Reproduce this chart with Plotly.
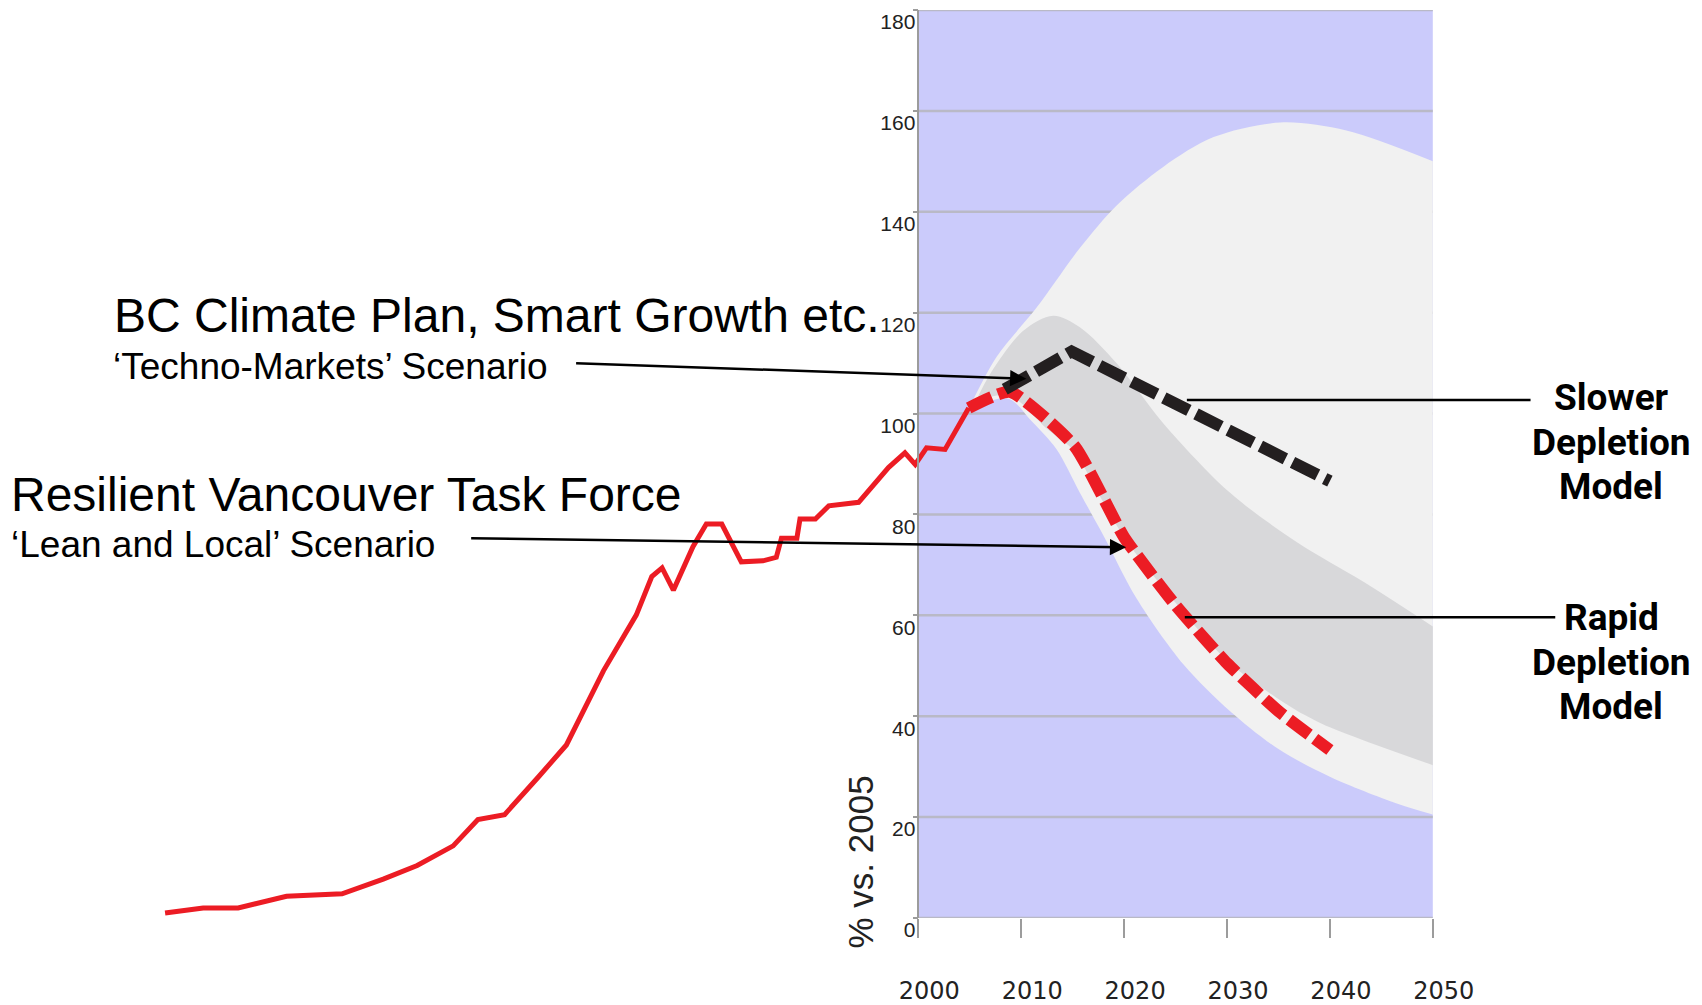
import plotly.graph_objects as go

# ---------------- data ----------------
hist_years = [1926.8, 1930.5, 1933.9, 1938.6, 1944.0, 1948.0, 1951.3, 1954.8, 1957.2, 1959.8,
              1963.1, 1965.8, 1969.4, 1972.6, 1974.1, 1975.1, 1976.2, 1978.1, 1979.4, 1980.9,
              1982.8, 1984.9, 1986.2, 1986.7, 1988.2, 1988.5, 1990.0, 1991.3, 1994.2, 1997.1,
              1998.7, 1999.7, 2000.8, 2002.6, 2004.9]
hist_values = [1.0, 2.0, 2.0, 4.3, 4.8, 7.7, 10.4, 14.3, 19.5, 20.5,
               28.0, 34.3, 49.0, 60.1, 67.7, 69.4, 65.0, 73.6, 78.1, 78.1,
               70.6, 70.8, 71.5, 75.3, 75.3, 79.1, 79.1, 81.7, 82.4, 89.3,
               92.2, 89.9, 93.2, 92.9, 101.1]

lean_years = [2004.9, 2008.9, 2015.2, 2020.0, 2025.0, 2030.0, 2035.0, 2040.0]
lean_values = [101.1, 104.3, 93.5, 75.5, 62.0, 50.5, 41.0, 33.3]

techno_years = [2008.4, 2014.9, 2040.0]
techno_values = [104.8, 112.3, 86.6]

outer_up_years = [2004.8, 2007.6, 2011.5, 2015.7, 2019.3, 2023.8, 2028.7, 2035.2, 2041.6, 2050.0]
outer_up_values = [100.5, 111.2, 121.0, 132.8, 141.3, 148.9, 154.8, 157.7, 156.1, 150.0]
outer_low_years = [2004.8, 2008.7, 2011.0, 2013.4, 2015.7, 2018.0, 2021.2, 2025.8, 2030.3, 2035.0,
                   2040.0, 2046.5, 2050.0]
outer_low_values = [100.5, 103.0, 98.5, 93.0, 84.3, 75.8, 63.4, 50.2, 41.0, 33.5,
                    28.0, 22.7, 20.5]

inner_up_years = [2005.6, 2007.0, 2010.2, 2013.1, 2015.7, 2019.3, 2023.8, 2030.3, 2036.8, 2043.3, 2050.0]
inner_up_values = [102.5, 107.9, 116.4, 119.4, 117.1, 109.9, 98.1, 84.3, 74.5, 66.6, 57.8]
inner_low_years = [2005.6, 2008.9, 2012.5, 2015.2, 2017.0, 2020.0, 2025.0, 2030.0, 2033.5, 2036.8,
                   2040.0, 2043.3, 2050.0]
inner_low_values = [102.5, 103.5, 97.0, 92.5, 86.0, 75.5, 62.5, 51.0, 45.5, 41.1,
                    37.8, 35.2, 30.3]

x_ticks = [2000, 2010, 2020, 2030, 2040, 2050]
y_ticks = [0, 20, 40, 60, 80, 100, 120, 140, 160, 180]

# annotation anchor points (data coords)
techno_arrow_tail = (1966.6, 110.0)
techno_arrow_tip = (2010.5, 106.9)
lean_arrow_tail = (1956.4, 75.3)
lean_arrow_tip = (2020.2, 73.5)
slower_line = (2026.1, 2059.5, 102.7)
rapid_line = (2025.9, 2061.9, 59.6)

# ---------------- layout geometry ----------------
W, H = 1702, 1005
M_T, M_B = 10, 79
PLOT_H = H - M_T - M_B
X0_PX, PX_PER_YEAR = 918.3, 10.29
x_range = [2000 - X0_PX / PX_PER_YEAR, 2000 + (W - X0_PX) / PX_PER_YEAR]


def px_x(px):
    return px / W


def px_y(py):
    return (H - M_B - py) / PLOT_H


RED = "#ec1c24"
BLACK = "#231f20"
BLUE_BG = "#cbcbfb"
LIGHT = "#f1f1f1"
DARK = "#d8d8da"
GRID = "#b9b9c6"
AXIS = "#9c9c9c"

fig = go.Figure()

# bands
fig.add_trace(go.Scatter(x=outer_low_years, y=outer_low_values, mode="lines",
                         line=dict(width=0, shape="spline", smoothing=0.9),
                         hoverinfo="skip", showlegend=False))
fig.add_trace(go.Scatter(x=outer_up_years, y=outer_up_values, mode="lines",
                         line=dict(width=0, shape="spline", smoothing=0.9),
                         fill="tonexty", fillcolor=LIGHT, hoverinfo="skip", showlegend=False))
fig.add_trace(go.Scatter(x=inner_low_years, y=inner_low_values, mode="lines",
                         line=dict(width=0, shape="spline", smoothing=0.9),
                         hoverinfo="skip", showlegend=False))
fig.add_trace(go.Scatter(x=inner_up_years, y=inner_up_values, mode="lines",
                         line=dict(width=0, shape="spline", smoothing=0.9),
                         fill="tonexty", fillcolor=DARK, hoverinfo="skip", showlegend=False))

# historical line
fig.add_trace(go.Scatter(x=hist_years, y=hist_values, mode="lines",
                         line=dict(color=RED, width=5), showlegend=False, hoverinfo="skip"))
# scenarios
fig.add_trace(go.Scatter(x=lean_years, y=lean_values, mode="lines",
                         line=dict(color=RED, width=12, dash="25px,7px", shape="spline", smoothing=0.5),
                         showlegend=False, hoverinfo="skip"))
fig.add_trace(go.Scatter(x=techno_years, y=techno_values, mode="lines",
                         line=dict(color=BLACK, width=12, dash="28px,8px"),
                         showlegend=False, hoverinfo="skip"))

shapes = [dict(type="rect", xref="x", yref="y", x0=x_ticks[0], x1=x_ticks[-1], y0=0, y1=180,
               fillcolor=BLUE_BG, line=dict(width=0), layer="below")]
for v in y_ticks:
    shapes.append(dict(type="line", xref="x", yref="y", x0=x_ticks[0], x1=x_ticks[-1], y0=v, y1=v,
                       line=dict(color=GRID, width=2.5), layer="below"))
shapes.append(dict(type="line", xref="x", yref="y", x0=slower_line[0], x1=slower_line[1],
                   y0=slower_line[2], y1=slower_line[2], line=dict(color="black", width=2.5)))
shapes.append(dict(type="line", xref="x", yref="y", x0=rapid_line[0], x1=rapid_line[1],
                   y0=rapid_line[2], y1=rapid_line[2], line=dict(color="black", width=2.5)))

SANS = "Liberation Sans, Arial, sans-serif"
COND = "Roboto, Liberation Sans, sans-serif"

annotations = []


def txt(text, px, py, size, family=SANS, xanchor="left", bold=False, angle=0, color="black"):
    annotations.append(dict(text=("<b>%s</b>" % text) if bold else text, xref="paper", yref="paper",
                            x=px_x(px), y=px_y(py), xanchor=xanchor, yanchor="middle",
                            showarrow=False, textangle=angle,
                            font=dict(family=family, size=size, color=color)))


txt("BC Climate Plan, Smart Growth etc.", 112, 318, 48)
txt("\u2018Techno-Markets\u2019 Scenario", 111, 370, 37)
txt("Resilient Vancouver Task Force", 9, 499, 48)
txt("\u2018Lean and Local\u2019 Scenario", 9, 549, 37)
for i, w in enumerate(["Slower", "Depletion", "Model"]):
    txt(w, 1611, [401, 446, 491][i], 37, family=COND, xanchor="center", bold=True)
for i, w in enumerate(["Rapid", "Depletion", "Model"]):
    txt(w, 1611, [623, 668, 713][i], 37, family=COND, xanchor="center", bold=True)
txt("% vs. 2005", 860, 869, 35, xanchor="center", angle=-90, color="#222222")

for tail, tip in [(techno_arrow_tail, techno_arrow_tip), (lean_arrow_tail, lean_arrow_tip)]:
    annotations.append(dict(x=tip[0], y=tip[1], ax=tail[0], ay=tail[1], xref="x", yref="y",
                            axref="x", ayref="y", text="", showarrow=True, arrowhead=2,
                            arrowsize=1.3, arrowwidth=2.5, arrowcolor="black",
                            standoff=0, startstandoff=0))

fig.update_layout(
    width=W, height=H,
    margin=dict(l=0, r=0, t=M_T, b=M_B),
    paper_bgcolor="white", plot_bgcolor="white",
    shapes=shapes, annotations=annotations,
    xaxis=dict(range=x_range, showgrid=False, zeroline=False, showline=False,
               tickvals=x_ticks, ticktext=[str(t) for t in x_ticks],
               ticks="outside", ticklen=19, tickwidth=1.5, tickcolor=AXIS,
               tickfont=dict(family="DejaVu Sans, sans-serif", size=24, color="#222222"),
               ticklabelstandoff=32, ticklabelshift=11),
    yaxis=dict(range=[0, 180], anchor="free", position=X0_PX / W, showgrid=False, zeroline=False,
               showline=True, linecolor=AXIS, linewidth=1.5,
               tickvals=y_ticks, ticktext=[str(t) for t in y_ticks],
               ticks="outside", ticklen=5, tickwidth=1.5, tickcolor=AXIS,
               tickfont=dict(family=SANS, size=21, color="#222222"),
               ticklabelshift=12, ticklabelstandoff=-7),
)

fig.write_html("out.html", post_script="document.body.style.margin='0';",
               config={"displayModeBar": False})
